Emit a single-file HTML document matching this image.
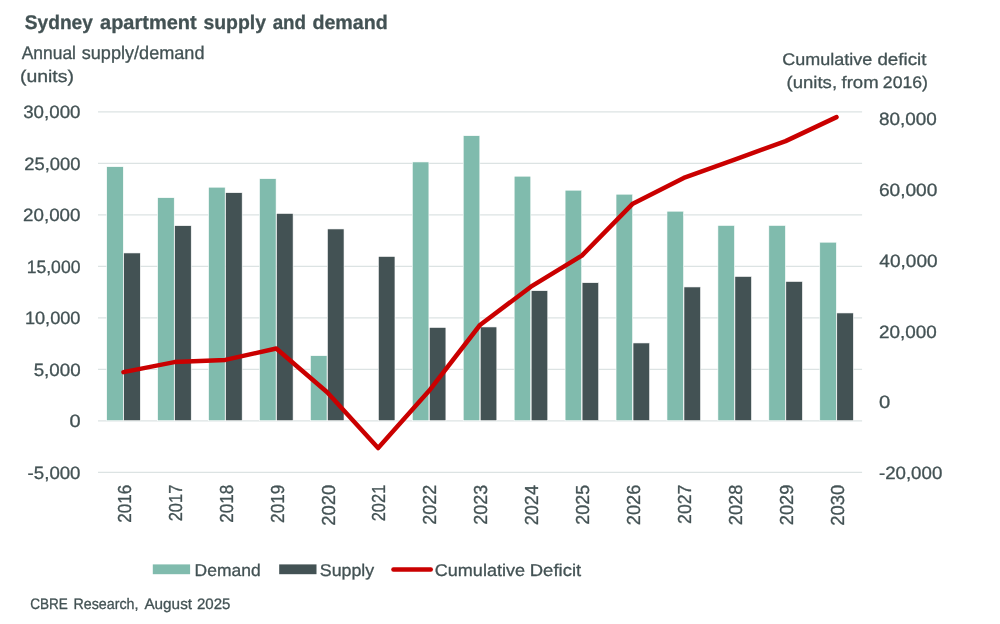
<!DOCTYPE html>
<html lang="en">
<head>
<meta charset="utf-8">
<title>Sydney apartment supply and demand</title>
<style>
html,body{margin:0;padding:0;background:#fff;}
body{width:1000px;height:624px;overflow:hidden;font-family:"Liberation Sans",sans-serif;}
svg{display:block;}
text{white-space:pre;}
</style>
</head>
<body>
<svg width="1000" height="624" viewBox="0 0 1000 624" font-family="'Liberation Sans', sans-serif">
<rect width="1000" height="624" fill="#fff"/>
<g stroke="#DCE3E3" stroke-width="1.2" fill="none">
<line x1="98.0" y1="111.80" x2="862.1" y2="111.80"/>
<line x1="98.0" y1="163.30" x2="862.1" y2="163.30"/>
<line x1="98.0" y1="214.80" x2="862.1" y2="214.80"/>
<line x1="98.0" y1="266.30" x2="862.1" y2="266.30"/>
<line x1="98.0" y1="317.80" x2="862.1" y2="317.80"/>
<line x1="98.0" y1="369.30" x2="862.1" y2="369.30"/>
<line x1="98.0" y1="420.80" x2="862.1" y2="420.80"/>
<line x1="98.0" y1="472.30" x2="862.1" y2="472.30"/>
</g>
<g fill="#80BBAD" stroke="#fff" stroke-width="0.6">
<rect x="106.70" y="166.70" width="16.6" height="254.00"/>
<rect x="157.63" y="197.70" width="16.6" height="223.00"/>
<rect x="208.57" y="187.20" width="16.6" height="233.50"/>
<rect x="259.50" y="178.70" width="16.6" height="242.00"/>
<rect x="310.43" y="355.70" width="16.6" height="65.00"/>
<rect x="412.30" y="161.95" width="16.6" height="258.75"/>
<rect x="463.23" y="135.70" width="16.6" height="285.00"/>
<rect x="514.17" y="176.20" width="16.6" height="244.50"/>
<rect x="565.10" y="190.20" width="16.6" height="230.50"/>
<rect x="616.03" y="194.20" width="16.6" height="226.50"/>
<rect x="666.97" y="211.20" width="16.6" height="209.50"/>
<rect x="717.90" y="225.45" width="16.6" height="195.25"/>
<rect x="768.83" y="225.45" width="16.6" height="195.25"/>
<rect x="819.77" y="242.20" width="16.6" height="178.50"/>
</g>
<g fill="#435254" stroke="#fff" stroke-width="0.6">
<rect x="123.70" y="252.95" width="16.6" height="167.75"/>
<rect x="174.63" y="225.70" width="16.6" height="195.00"/>
<rect x="225.57" y="192.70" width="16.6" height="228.00"/>
<rect x="276.50" y="213.45" width="16.6" height="207.25"/>
<rect x="327.43" y="228.95" width="16.6" height="191.75"/>
<rect x="378.37" y="256.45" width="16.6" height="164.25"/>
<rect x="429.30" y="327.45" width="16.6" height="93.25"/>
<rect x="480.23" y="326.95" width="16.6" height="93.75"/>
<rect x="531.17" y="290.70" width="16.6" height="130.00"/>
<rect x="582.10" y="282.70" width="16.6" height="138.00"/>
<rect x="633.03" y="342.95" width="16.6" height="77.75"/>
<rect x="683.97" y="286.95" width="16.6" height="133.75"/>
<rect x="734.90" y="276.45" width="16.6" height="144.25"/>
<rect x="785.83" y="281.45" width="16.6" height="139.25"/>
<rect x="836.77" y="312.95" width="16.6" height="107.75"/>
</g>
<polyline points="123.47,372.10 174.40,362.10 225.33,359.90 276.27,348.50 327.20,392.30 378.13,448.00 429.07,390.80 480.00,325.00 530.93,286.70 581.87,255.60 632.80,203.70 683.73,177.90 734.67,159.60 785.60,141.10 836.53,117.10" fill="none" stroke="#CA0000" stroke-width="4.5" stroke-linecap="round" stroke-linejoin="round"/>
<rect x="152.8" y="564.4" width="37.3" height="9.8" fill="#80BBAD"/>
<rect x="279.2" y="564.4" width="37.3" height="9.8" fill="#435254"/>
<line x1="393.45" y1="569.5" x2="430.75" y2="569.5" stroke="#CA0000" stroke-width="4.5" stroke-linecap="round"/>
<g fill="#435254" stroke="#435254" stroke-width="0.3" stroke-linejoin="round" text-rendering="geometricPrecision">
<text y="29.10" font-size="19.79" font-weight="700"><tspan x="24.83" textLength="68.06" lengthAdjust="spacingAndGlyphs">Sydney</tspan> <tspan x="100.05" textLength="96.59" lengthAdjust="spacingAndGlyphs">apartment</tspan> <tspan x="203.42" textLength="62.63" lengthAdjust="spacingAndGlyphs">supply</tspan> <tspan x="272.68" textLength="33.40" lengthAdjust="spacingAndGlyphs">and</tspan> <tspan x="312.41" textLength="75.24" lengthAdjust="spacingAndGlyphs">demand</tspan></text>
<text y="59.10" font-size="18.33"><tspan x="21.75" textLength="54.21" lengthAdjust="spacingAndGlyphs">Annual</tspan> <tspan x="81.70" textLength="122.82" lengthAdjust="spacingAndGlyphs">supply/demand</tspan></text>
<text transform="translate(19.94 81.60) scale(1.1420 1)" font-size="17.02">(units)</text>
<text y="65.40" font-size="16.77"><tspan x="782.25" textLength="89.91" lengthAdjust="spacingAndGlyphs">Cumulative</tspan> <tspan x="877.45" textLength="49.03" lengthAdjust="spacingAndGlyphs">deficit</tspan></text>
<text y="87.75" font-size="16.77"><tspan x="786.59" textLength="50.45" lengthAdjust="spacingAndGlyphs">(units,</tspan> <tspan x="841.52" textLength="37.09" lengthAdjust="spacingAndGlyphs">from</tspan> <tspan x="882.87" textLength="44.99" lengthAdjust="spacingAndGlyphs">2016)</tspan></text>
<text transform="translate(194.62 575.60) scale(1.0261 1)" font-size="17.02">Demand</text>
<text transform="translate(319.76 575.50) scale(1.0469 1)" font-size="17.02">Supply</text>
<text y="575.50" font-size="17.02"><tspan x="434.75" textLength="90.32" lengthAdjust="spacingAndGlyphs">Cumulative</tspan> <tspan x="529.78" textLength="51.38" lengthAdjust="spacingAndGlyphs">Deficit</tspan></text>
<text y="609.00" font-size="15.20"><tspan x="30.22" textLength="37.68" lengthAdjust="spacingAndGlyphs">CBRE</tspan> <tspan x="73.40" textLength="65.13" lengthAdjust="spacingAndGlyphs">Research,</tspan> <tspan x="144.40" textLength="47.65" lengthAdjust="spacingAndGlyphs">August</tspan> <tspan x="196.90" textLength="33.51" lengthAdjust="spacingAndGlyphs">2025</tspan></text>
<text transform="translate(23.20 118.30) scale(1.0507 1)" font-size="17.82">30,000</text>
<text transform="translate(24.23 169.80) scale(1.0315 1)" font-size="17.82">25,000</text>
<text transform="translate(23.11 221.30) scale(1.0523 1)" font-size="17.82">20,000</text>
<text transform="translate(26.73 272.80) scale(0.9851 1)" font-size="17.82">15,000</text>
<text transform="translate(24.89 324.30) scale(1.0194 1)" font-size="17.82">10,000</text>
<text transform="translate(33.65 375.80) scale(1.0526 1)" font-size="17.82">5,000</text>
<text transform="translate(69.60 427.30) scale(1.1220 1)" font-size="17.82">0</text>
<text transform="translate(27.62 478.80) scale(1.0466 1)" font-size="17.82">-5,000</text>
<text transform="translate(878.90 125.30) scale(1.0617 1)" font-size="17.82">80,000</text>
<text transform="translate(878.89 196.04) scale(1.0730 1)" font-size="17.82">60,000</text>
<text transform="translate(879.37 266.78) scale(1.0678 1)" font-size="17.82">40,000</text>
<text transform="translate(878.91 337.52) scale(1.0598 1)" font-size="17.82">20,000</text>
<text transform="translate(879.09 408.26) scale(1.1339 1)" font-size="17.82">0</text>
<text transform="translate(878.92 479.00) scale(1.0489 1)" font-size="17.82">-20,000</text>
<text transform="translate(130.78 522.70) rotate(-90) scale(0.9490 1.0448)" font-size="18.00">2016</text>
<text transform="translate(181.71 521.27) rotate(-90) scale(0.9124 1.0448)" font-size="18.00">2017</text>
<text transform="translate(232.65 522.70) rotate(-90) scale(0.9490 1.0448)" font-size="18.00">2018</text>
<text transform="translate(283.58 522.91) rotate(-90) scale(0.9542 1.0448)" font-size="18.00">2019</text>
<text transform="translate(334.51 525.77) rotate(-90) scale(1.0214 1.0448)" font-size="18.00">2020</text>
<text transform="translate(385.45 521.27) rotate(-90) scale(0.9124 1.0448)" font-size="18.00">2021</text>
<text transform="translate(436.38 524.65) rotate(-90) scale(0.9987 1.0448)" font-size="18.00">2022</text>
<text transform="translate(487.31 524.65) rotate(-90) scale(0.9987 1.0448)" font-size="18.00">2023</text>
<text transform="translate(538.25 525.15) rotate(-90) scale(1.0000 1.0448)" font-size="18.00">2024</text>
<text transform="translate(589.18 524.64) rotate(-90) scale(0.9929 1.0448)" font-size="18.00">2025</text>
<text transform="translate(640.11 525.16) rotate(-90) scale(1.0118 1.0448)" font-size="18.00">2026</text>
<text transform="translate(691.05 523.93) rotate(-90) scale(0.9804 1.0448)" font-size="18.00">2027</text>
<text transform="translate(741.98 525.16) rotate(-90) scale(1.0118 1.0448)" font-size="18.00">2028</text>
<text transform="translate(792.91 525.16) rotate(-90) scale(1.0118 1.0448)" font-size="18.00">2029</text>
<text transform="translate(843.85 525.67) rotate(-90) scale(1.0188 1.0448)" font-size="18.00">2030</text>
</g>
</svg>
</body>
</html>
